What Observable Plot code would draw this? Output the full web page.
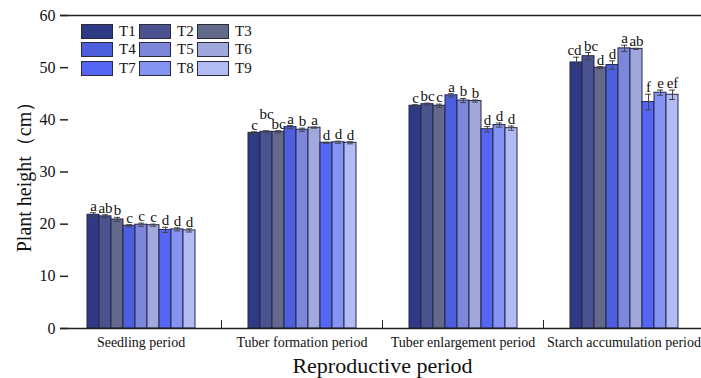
<!DOCTYPE html>
<html><head><meta charset="utf-8">
<script src="https://cdn.jsdelivr.net/npm/d3@7"></script>
<script src="https://cdn.jsdelivr.net/npm/@observablehq/plot@0.6"></script>
<style>
body{margin:0;background:#fff;overflow:hidden;}
#wrap{position:relative;width:701px;height:378px;overflow:hidden;}
#legend{position:absolute;left:81px;top:24px;font-family:"Liberation Serif","Times New Roman",serif;font-size:15px;color:#111;}
.sw{position:absolute;width:30px;height:13px;border:1px solid #2a2a3a;}
.lb{position:absolute;line-height:15px;}
svg text{font-family:"Liberation Serif","Times New Roman",serif;}
g[aria-label="fx-axis label"] text{font-size:22px;}
g[aria-label="y-axis label"] text{font-size:20px;}
</style></head><body><div id="wrap"><div id="chart"></div><div id="legend"></div></div>
<script>
const periods = ["Seedling period","Tuber formation period","Tuber enlargement period","Starch accumulation period"];
const treatments = ["T1","T2","T3","T4","T5","T6","T7","T8","T9"];
const colors = ["#2f3a84","#4a5290","#63698a","#4d5fdc","#7c87dc","#a0a8dc","#5566f4","#8594f2","#b3bbf4"];
const yTicks = [0,10,20,30,40,50,60];

const seedling     = [21.8, 21.5, 20.9, 19.7, 19.9, 19.8, 18.9, 19.0, 18.8];
const formation    = [37.5, 37.7, 37.7, 38.6, 38.1, 38.5, 35.6, 35.7, 35.6];
const enlargement  = [42.7, 43.0, 42.7, 44.7, 43.7, 43.6, 38.2, 39.0, 38.4];
const starch       = [51.0, 52.2, 50.0, 50.5, 53.7, 53.6, 43.4, 45.2, 44.8];

const seedlingErr    = [0.4, 0.3, 0.4, 0.2, 0.3, 0.2, 0.5, 0.3, 0.3];
const formationErr   = [0.2, 0.2, 0.2, 0.3, 0.3, 0.1, 0.1, 0.2, 0.2];
const enlargementErr = [0.2, 0.2, 0.3, 0.3, 0.4, 0.2, 0.5, 0.4, 0.4];
const starchErr      = [1.0, 0.7, 0.2, 0.8, 0.6, 0.1, 1.5, 0.5, 0.9];

const seedlingSig    = ["a","ab","b","c","c","c","d","d","d"];
const formationSig   = ["c","bc","bc","a","b","a","d","d","d"];
const enlargementSig = ["c","bc","c","a","b","b","d","d","d"];
const starchSig      = ["cd","bc","d","d","a","ab","f","e","ef"];

const values = [seedling, formation, enlargement, starch];
const errs = [seedlingErr, formationErr, enlargementErr, starchErr];
const sigs = [seedlingSig, formationSig, enlargementSig, starchSig];

const rows = periods.flatMap((p, i) => treatments.map((t, j) => ({
  period: p, t, value: values[i][j], err: errs[i][j], sig: sigs[i][j]
})));

// letters the original figure nudges to avoid collisions
const isRaised = d => d.period === "Tuber formation period" && d.t === "T2";
const isLeft = d => d.period === "Starch accumulation period" && d.t === "T1";
const isRight = d => d.period === "Starch accumulation period" && d.t === "T2";
const isPlain = d => !isRaised(d) && !isLeft(d) && !isRight(d);

const serif = "'Liberation Serif', 'Times New Roman', serif";
const sigOpts = {fx: "period", x: "t", y: d => d.value + d.err, text: "sig", lineAnchor: "bottom", fontSize: 15, fill: "#111"};

const chart = Plot.plot({
  width: 701, height: 378,
  marginLeft: 60, marginRight: -3, marginTop: 15, marginBottom: 50,
  style: {fontFamily: serif, background: "transparent", color: "#111"},
  fx: {domain: periods, padding: 0, label: null},
  x: {domain: treatments, axis: null, paddingInner: 0, paddingOuter: 1.9},
  y: {domain: [0, 60], axis: null},
  color: {domain: treatments, range: colors},
  marks: [
    Plot.barY(rows, {fx: "period", x: "t", y: "value", fill: "t", stroke: "#24264a", strokeWidth: 1}),
    Plot.ruleX(rows, {fx: "period", x: "t", y1: d => d.value - d.err, y2: d => d.value + d.err, stroke: "#444", strokeWidth: 1}),
    Plot.tickY(rows, {fx: "period", x: "t", y: d => d.value + d.err, stroke: "#444", insetLeft: 3, insetRight: 3}),
    Plot.tickY(rows, {fx: "period", x: "t", y: d => d.value - d.err, stroke: "#444", insetLeft: 3, insetRight: 3}),
    Plot.text(rows.filter(isPlain), {...sigOpts, dy: -2}),
    Plot.text(rows.filter(isRaised), {...sigOpts, dy: -12}),
    Plot.text(rows.filter(isLeft), {...sigOpts, dy: -2, dx: -2}),
    Plot.text(rows.filter(isRight), {...sigOpts, dy: -2, dx: 2.5}),
    Plot.ruleY([0], {stroke: "#222", strokeWidth: 1.5}),
    Plot.ruleY([60], {stroke: "#222", strokeWidth: 1.5}),
    Plot.frame({anchor: "right", insetTop: 305, stroke: "#222"}),
    Plot.axisY({ticks: yTicks, tickSize: -8, tickPadding: 13, line: true, stroke: "#222", strokeWidth: 1.5,
      label: "Plant height（cm）", labelAnchor: "center", labelArrow: "none", labelOffset: 44, fontSize: 16}),
    Plot.axisFx({anchor: "bottom", tickSize: 0, tickPadding: 9, label: "Reproductive period",
      labelAnchor: "center", labelArrow: "none", labelOffset: 44, fontSize: 14})
  ]
});
document.getElementById("chart").appendChild(chart);

const legend = document.getElementById("legend");
treatments.forEach((t, i) => {
  const col = i % 3, row = Math.floor(i / 3);
  const sw = document.createElement("div");
  sw.className = "sw";
  sw.style.left = (col * 58) + "px";
  sw.style.top = (row * 18.3) + "px";
  sw.style.background = colors[i];
  legend.appendChild(sw);
  const lb = document.createElement("div");
  lb.className = "lb";
  lb.style.left = (col * 58 + 38) + "px";
  lb.style.top = (row * 18.3) + "px";
  lb.textContent = t;
  legend.appendChild(lb);
});
</script>
</body></html>
